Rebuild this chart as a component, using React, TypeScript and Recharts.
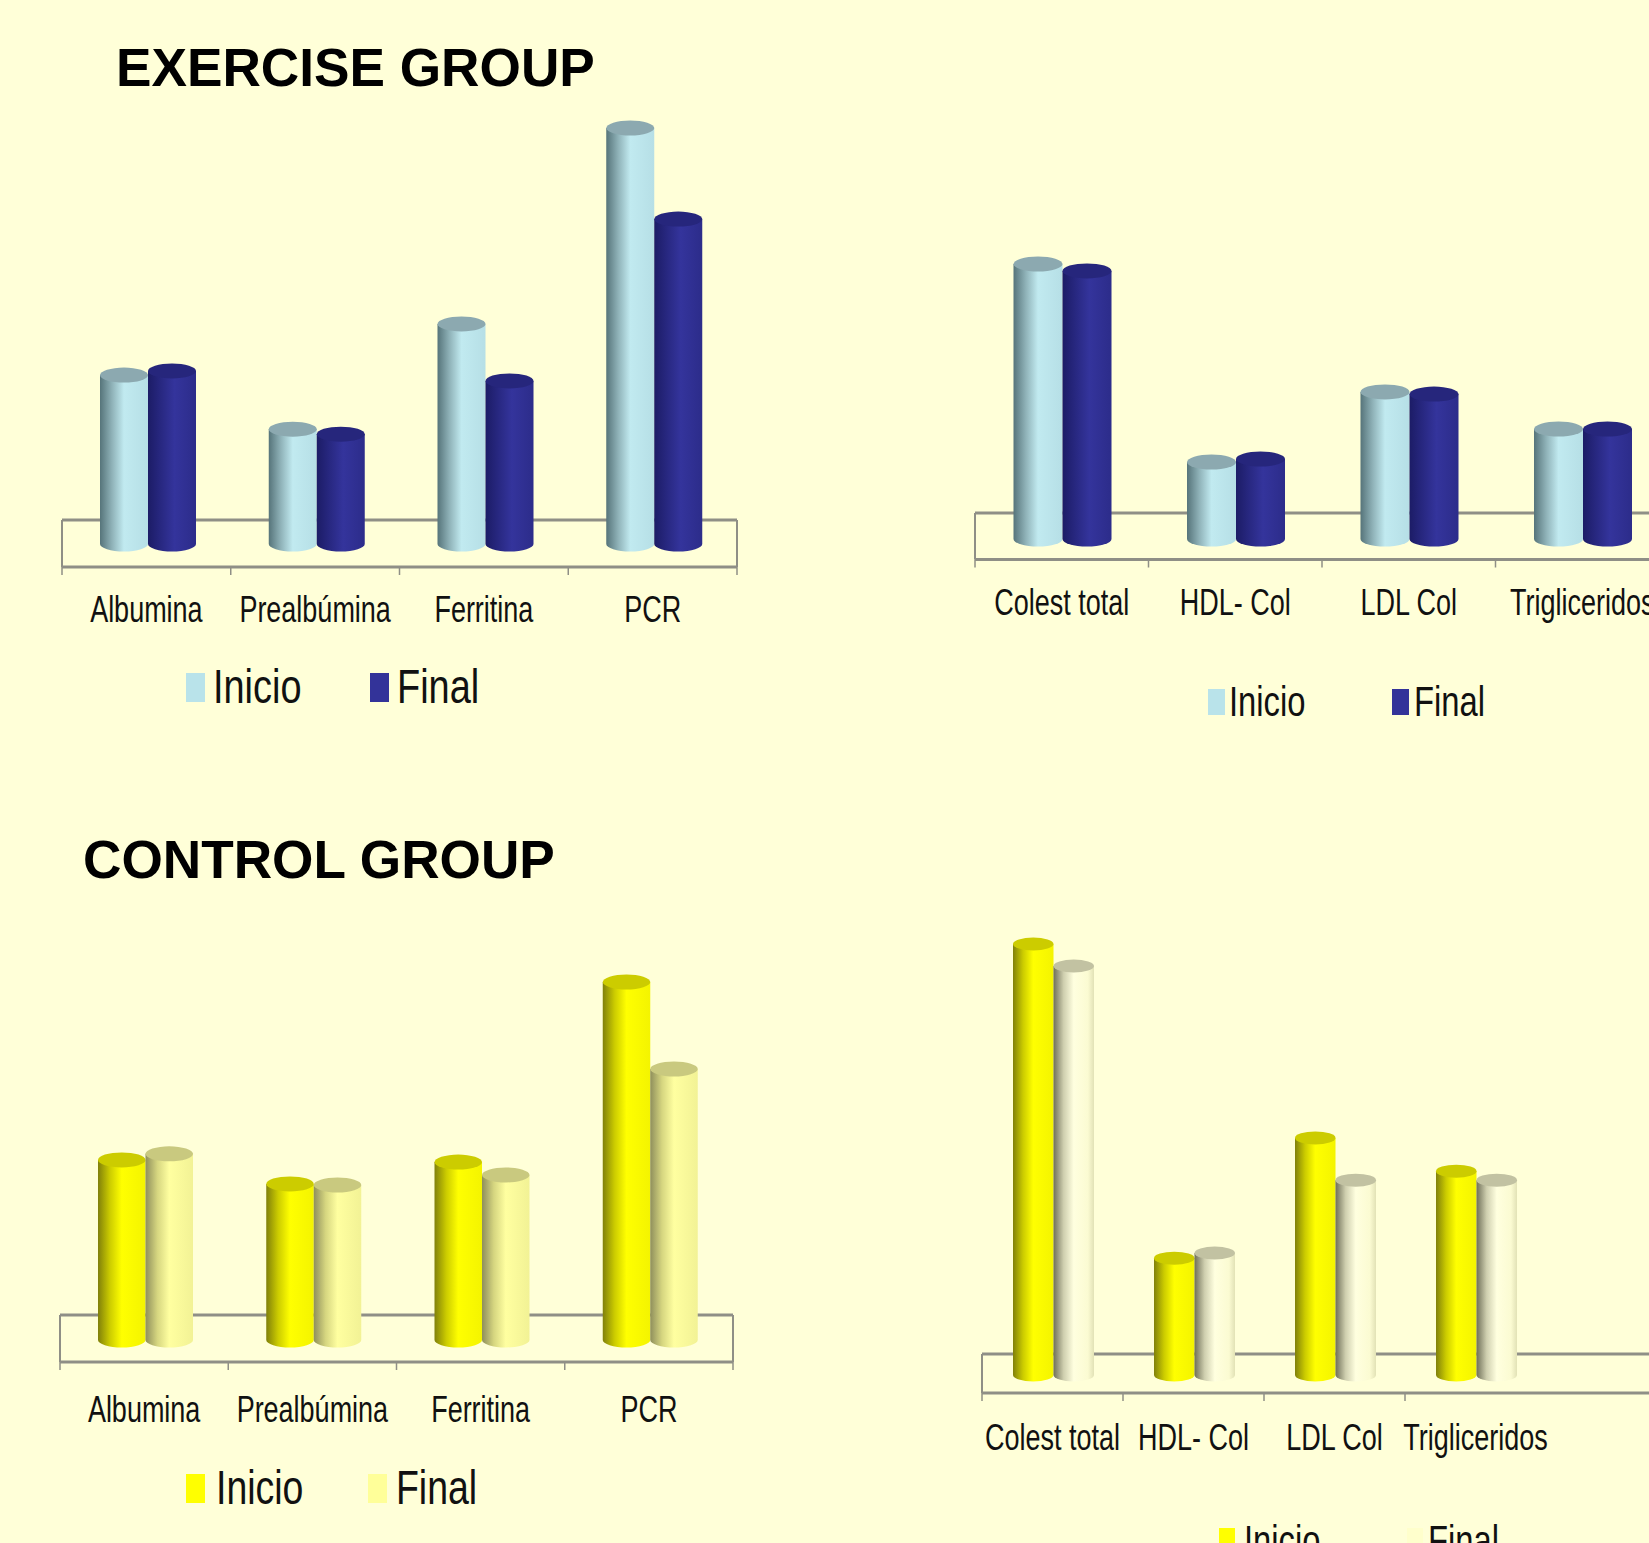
import { Bar, BarChart, Legend, ReferenceArea, XAxis, YAxis } from 'recharts';

const proteinLabels = ['Albumina', 'Prealbúmina', 'Ferritina', 'PCR'];
const lipidLabels = ['Colest total', 'HDL- Col', 'LDL Col', 'Trigliceridos'];

const exerciseProteinInicio = [40.6, 27.6, 52.9, 100];
const exerciseProteinFinal = [41.6, 26.4, 39.2, 78.1];
const exerciseLipidInicio = [100, 28, 53.5, 40];
const exerciseLipidFinal = [97.5, 29.1, 52.7, 40];
const controlProteinInicio = [50.3, 43.6, 49.7, 100];
const controlProteinFinal = [52, 43.3, 46.1, 75.7];
const controlLipidInicio = [100, 27.1, 55, 47.3];
const controlLipidFinal = [94.9, 28.3, 45.2, 45.2];

const FONT = '"Liberation Sans", Arial, sans-serif';
const AXIS_GRAY = '#8f8f86';
const PAD_LEFT = 50;
const PAD_TOP = 24;
const AXIS_HEIGHT = 90;

type Tone = { fill: string; cap: string; stops: [number, string][] };

const paleBlue: Tone = {
  fill: '#B9E3EA',
  cap: '#8CA9B0',
  stops: [[0, '#56747a'], [0.25, '#8fb2b8'], [0.5, '#c1eaf0'], [1, '#b6dfe6']],
};
const navy: Tone = {
  fill: '#333399',
  cap: '#26267c',
  stops: [[0, '#1c1c66'], [0.25, '#27277f'], [0.55, '#34349c'], [1, '#2c2c8a']],
};
const yellow: Tone = {
  fill: '#FFFF00',
  cap: '#CCCC00',
  stops: [[0, '#80800a'], [0.25, '#cccc00'], [0.5, '#ffff00'], [1, '#f4f400']],
};
const paleYellow: Tone = {
  fill: '#FFFF99',
  cap: '#C9C97F',
  stops: [[0, '#8f8f5c'], [0.25, '#d6d680'], [0.5, '#ffffa0'], [1, '#f2f295']],
};
const cream: Tone = {
  fill: '#FFFFCC',
  cap: '#C2C2A2',
  stops: [[0, '#6f6f58'], [0.25, '#cfcfaf'], [0.5, '#ffffdf'], [0.85, '#fbfbd2'], [1, '#e2e2b6']],
};

type PanelProps = {
  id: string;
  categories: string[];
  inicio: number[];
  final: number[];
  inicioTone: Tone;
  finalTone: Tone;
  // page positions of the plot: value 100 at plotTop, x axis at plotBottom
  plotLeft: number;
  plotRight: number;
  plotTop: number;
  plotBottom: number;
  rightPadding?: number;
  axisMin: number;
  backLevel: number;
  barSize: number;
  barShift: number;
  capRy: number;
  labelGap: number;
  labelSize: number;
  labelScale: number;
  legend: {
    y: number;
    swatchW: number;
    swatchH: number;
    size: number;
    scale: number;
    items: [number, number][];
  };
};

function Cylinder(props: any) {
  const { y, width, height, gradId, tone, ry, shift } = props;
  const x = props.x + shift;
  const r = width / 2;
  const side = `M${x},${y} L${x},${y + height} A${r},${ry} 0 0 0 ${x + width},${y + height} L${x + width},${y} Z`;
  return (
    <g>
      <path d={side} fill={`url(#${gradId})`} />
      <ellipse cx={x + r} cy={y} rx={r} ry={ry} fill={tone.cap} />
    </g>
  );
}

// floor outline: left wall, back edge and, when the floor ends on screen, the right wall
function FloorOutline(props: any) {
  const { x, y, width, height, extra } = props;
  const right = x + width + extra;
  return (
    <g fill='none' stroke={AXIS_GRAY}>
      <path d={`M${x},${y + height} L${x},${y}`} strokeWidth={2} />
      <path d={`M${x},${y} L${right},${y}`} strokeWidth={3} />
      {extra === 0 && <path d={`M${right},${y} L${right},${y + height}`} strokeWidth={2} />}
    </g>
  );
}

function AxisTick(props: any) {
  const { x, y, payload, index, band, last, labelGap, labelSize, labelScale } = props;
  const left = x - band / 2;
  return (
    <g>
      <line x1={left} x2={left} y1={y} y2={y + 8} stroke={AXIS_GRAY} strokeWidth={1.5} />
      {index === last && !props.noEndTick && (
        <line x1={left + band} x2={left + band} y1={y} y2={y + 8} stroke={AXIS_GRAY} strokeWidth={1.5} />
      )}
      <text
        transform={`translate(${x},${y + labelGap}) scale(${labelScale},1)`}
        textAnchor='middle'
        fontFamily={FONT}
        fontSize={labelSize}
        fill='#111'
      >
        {payload.value}
      </text>
    </g>
  );
}

function ToneGradient({ id, tone }: { id: string; tone: Tone }) {
  return (
    <linearGradient id={id} x1='0' x2='1' y1='0' y2='0'>
      {tone.stops.map(([offset, color]) => (
        <stop key={offset} offset={offset} stopColor={color} />
      ))}
    </linearGradient>
  );
}

function Panel(p: PanelProps) {
  const data = p.categories.map((name, i) => ({ name, Inicio: p.inicio[i], Final: p.final[i] }));
  const originX = p.plotLeft - PAD_LEFT;
  const originY = p.plotTop - PAD_TOP;
  const plotW = p.plotRight - p.plotLeft;
  const padRight = p.rightPadding ?? 0;
  const band = (plotW - padRight) / p.categories.length;
  const inicioId = `${p.id}-inicio`;
  const finalId = `${p.id}-final`;

  const renderLegend = ({ payload }: any) => (
    <div style={{ position: 'relative', height: 0, width: 0 }}>
      {(payload ?? []).map((entry: any, i: number) => {
        const [swatchX, textX] = p.legend.items[i];
        return (
          <div key={entry.value}>
            <div
              style={{
                position: 'absolute',
                left: swatchX - originX,
                top: p.legend.y - originY - p.legend.swatchH / 2,
                width: p.legend.swatchW,
                height: p.legend.swatchH,
                background: entry.color,
              }}
            />
            <div
              style={{
                position: 'absolute',
                left: textX - originX,
                top: p.legend.y - originY - p.legend.size * 0.6,
                fontFamily: FONT,
                fontSize: p.legend.size,
                lineHeight: `${p.legend.size * 1.2}px`,
                color: '#111',
                transform: `scaleX(${p.legend.scale})`,
                transformOrigin: 'left top',
                whiteSpace: 'nowrap',
              }}
            >
              {entry.value}
            </div>
          </div>
        );
      })}
    </div>
  );

  return (
    <div style={{ position: 'absolute', left: originX, top: originY }}>
      <BarChart
        width={PAD_LEFT + plotW + 10}
        height={PAD_TOP + (p.plotBottom - p.plotTop) + AXIS_HEIGHT}
        data={data}
        barSize={p.barSize}
        barGap={0}
        margin={{ top: PAD_TOP, left: PAD_LEFT, right: 10, bottom: 0 }}
      >
        <defs>
          <ToneGradient id={inicioId} tone={p.inicioTone} />
          <ToneGradient id={finalId} tone={p.finalTone} />
        </defs>
        <XAxis
          dataKey='name'
          height={AXIS_HEIGHT}
          interval={0}
          tickSize={0}
          tickMargin={0}
          tickLine={false}
          padding={{ left: 0, right: padRight }}
          axisLine={{ stroke: AXIS_GRAY, strokeWidth: 3 }}
          tick={(t: any) => (
            <AxisTick
              {...t}
              band={band}
              last={p.categories.length - 1}
              noEndTick={Boolean(p.rightPadding)}
              labelGap={p.labelGap}
              labelSize={p.labelSize}
              labelScale={p.labelScale}
            />
          )}
        />
        <YAxis hide domain={[p.axisMin, 100]} />
        <ReferenceArea
          y1={p.axisMin}
          y2={p.backLevel}
          ifOverflow='visible'
          shape={(s: any) => <FloorOutline {...s} extra={padRight} />}
        />
        <Bar
          dataKey='Inicio'
          name='Inicio'
          fill={p.inicioTone.fill}
          isAnimationActive={false}
          shape={(s: any) => (
            <Cylinder {...s} gradId={inicioId} tone={p.inicioTone} ry={p.capRy} shift={p.barShift} />
          )}
        />
        <Bar
          dataKey='Final'
          name='Final'
          fill={p.finalTone.fill}
          isAnimationActive={false}
          shape={(s: any) => (
            <Cylinder {...s} gradId={finalId} tone={p.finalTone} ry={p.capRy} shift={p.barShift} />
          )}
        />
        <Legend
          content={renderLegend}
          itemSorter={null}
          wrapperStyle={{ left: 0, top: 0, bottom: 'auto', width: 0, height: 0 }}
        />
      </BarChart>
    </div>
  );
}

function Title({ text, x, y }: { text: string; x: number; y: number }) {
  return (
    <div
      style={{
        position: 'absolute',
        left: x,
        top: y,
        fontFamily: FONT,
        fontWeight: 700,
        fontSize: 53.2,
        lineHeight: '60px',
        color: '#000',
        whiteSpace: 'nowrap',
      }}
    >
      {text}
    </div>
  );
}

export default function App() {
  return (
    <div
      style={{
        position: 'fixed',
        left: 0,
        top: 0,
        width: 1649,
        height: 1543,
        overflow: 'hidden',
        background: '#FFFFD8',
      }}
    >
      <Title text='EXERCISE GROUP' x={116} y={38} />
      <Title text='CONTROL GROUP' x={83} y={830} />

      <Panel
        id='ex-protein'
        categories={proteinLabels}
        inicio={exerciseProteinInicio}
        final={exerciseProteinFinal}
        inicioTone={paleBlue}
        finalTone={navy}
        plotLeft={62}
        plotRight={737}
        plotTop={128}
        plotBottom={567}
        axisMin={-5.53}
        backLevel={5.77}
        barSize={48}
        barShift={2}
        capRy={7.5}
        labelGap={55}
        labelSize={36}
        labelScale={0.75}
        legend={{ y: 687, swatchW: 19, swatchH: 29, size: 48, scale: 0.79, items: [[186, 213], [370, 397]] }}
      />
      <Panel
        id='ex-lipid'
        categories={lipidLabels}
        inicio={exerciseLipidInicio}
        final={exerciseLipidFinal}
        inicioTone={paleBlue}
        finalTone={navy}
        plotLeft={975}
        plotRight={1669}
        plotTop={264}
        plotBottom={559.5}
        axisMin={-7.45}
        backLevel={9.45}
        barSize={49}
        barShift={0.5}
        capRy={7.5}
        labelGap={55}
        labelSize={36}
        labelScale={0.75}
        legend={{ y: 702, swatchW: 17, swatchH: 26, size: 42, scale: 0.78, items: [[1208, 1229], [1392, 1414]] }}
      />
      <Panel
        id='ctl-protein'
        categories={proteinLabels}
        inicio={controlProteinInicio}
        final={controlProteinFinal}
        inicioTone={yellow}
        finalTone={paleYellow}
        plotLeft={60}
        plotRight={733}
        plotTop={982}
        plotBottom={1362}
        axisMin={-6.15}
        backLevel={6.98}
        barSize={47.5}
        barShift={1}
        capRy={7.5}
        labelGap={60}
        labelSize={36}
        labelScale={0.75}
        legend={{ y: 1488, swatchW: 19, swatchH: 29, size: 48, scale: 0.78, items: [[186, 216], [368, 396]] }}
      />
      <Panel
        id='ctl-lipid'
        categories={lipidLabels}
        inicio={controlLipidInicio}
        final={controlLipidFinal}
        inicioTone={yellow}
        finalTone={cream}
        plotLeft={982}
        plotRight={1680}
        plotTop={944}
        plotBottom={1393}
        rightPadding={134}
        axisMin={-4.18}
        backLevel={4.87}
        barSize={40.5}
        barShift={1}
        capRy={6.5}
        labelGap={57}
        labelSize={36}
        labelScale={0.75}
        legend={{ y: 1541, swatchW: 16, swatchH: 26, size: 42, scale: 0.78, items: [[1219, 1244], [1407, 1428]] }}
      />
    </div>
  );
}
